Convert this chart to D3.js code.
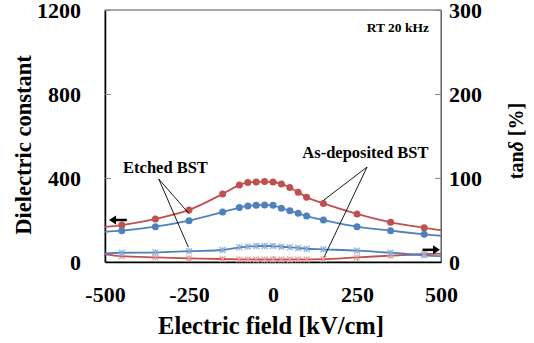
<!DOCTYPE html>
<html>
<head>
<meta charset="utf-8">
<script src="https://cdn.jsdelivr.net/npm/d3@7"></script>
<style>
  body { margin: 0; background: #fff; }
  svg text { font-family: "Liberation Serif", "Times New Roman", serif; font-weight: bold; }
</style>
</head>
<body>
<svg id="chart" width="534" height="343"></svg>
<script>
// Electric field [kV/cm]; the ±500 ends only carry the line to the frame
const field = [-500, -450, -350, -250, -150, -100, -75, -50, -25, 0, 25, 50, 75, 100, 150, 250, 350, 450, 500];

// dielectric constant (left axis)
const epsAsDep = [167, 176, 205, 248, 324, 367, 379, 381, 383, 381, 372, 355, 332, 308, 279, 229, 189, 163, 152];
const epsEtched = [144, 149, 168, 197, 238, 259, 267, 270, 272, 270, 256, 244, 232, 219, 200, 168, 149, 132, 125];

// tan delta [%] (right axis)
const tanAsDep = [9.2, 7, 5.5, 4.4, 3.6, 3.2, 3.1, 3, 3, 3, 3, 3, 3.1, 3.2, 3.4, 5.5, 7.5, 9.5, 10];
const tanEtched = [10.3, 11, 11.5, 13, 14.3, 17.5, 18.3, 19, 19, 19, 18.2, 17.5, 16.7, 15.8, 15, 13.5, 11, 8, 7];

const xTicks = [-500, -250, 0, 250, 500];
const yTicksLeft = [0, 400, 800, 1200];
const yTicksRight = [0, 100, 200, 300];

const red = '#c0504d', blue = '#4f81bd';
const redLight = '#e6a4a3', blueLight = '#8eb0dc';

const margin = { top: 10, right: 93, bottom: 81, left: 105 };
const width = 534 - margin.left - margin.right;
const height = 343 - margin.top - margin.bottom;

const svg = d3.select('#chart');
const g = svg.append('g').attr('transform', `translate(${margin.left},${margin.top})`);

const x = d3.scaleLinear().domain([-500, 500]).range([0, width]);
const yL = d3.scaleLinear().domain([0, 1200]).range([height, 0]);
const yR = d3.scaleLinear().domain([0, 300]).range([height, 0]);

// frame
g.append('rect').attr('width', width).attr('height', height)
  .attr('fill', 'none').attr('stroke', '#555').attr('stroke-width', 1);

// axes with inward ticks
const fmt = (d) => String(d);
const axL = g.append('g').call(d3.axisLeft(yL).tickValues(yTicksLeft).tickFormat(fmt)
  .tickSizeInner(-6).tickSizeOuter(0).tickPadding(24));
const axR = g.append('g').attr('transform', `translate(${width},0)`)
  .call(d3.axisRight(yR).tickValues(yTicksRight).tickFormat(fmt)
    .tickSizeInner(-6).tickSizeOuter(0).tickPadding(8));
const axB = g.append('g').attr('transform', `translate(0,${height})`)
  .call(d3.axisBottom(x).tickValues(xTicks).tickFormat(fmt)
    .tickSizeInner(-6).tickSizeOuter(0).tickPadding(24));

[axL, axR, axB].forEach((a) => {
  a.attr('font-family', null).attr('font-size', null);
  a.selectAll('text').style('font-size', '22px').attr('fill', '#000');
  a.selectAll('.tick line').attr('stroke', '#888');
});
axL.select('.domain').attr('stroke', '#000').attr('stroke-width', 1.5);
axB.select('.domain').attr('stroke', '#000').attr('stroke-width', 1.5);
axR.select('.domain').attr('stroke', '#666');
axB.selectAll('.tick line').filter((d) => d === -500 || d === 500).remove();

svg.append('clipPath').attr('id', 'plot')
  .append('rect').attr('width', width).attr('height', height);
const plot = g.append('g').attr('clip-path', 'url(#plot)');

function series(values, scale, color, markerColor, marker) {
  const pts = field.map((f, i) => ({ f, v: values[i] }));
  const line = d3.line().x((d) => x(d.f)).y((d) => scale(d.v)).curve(d3.curveCatmullRom.alpha(0.5));
  plot.append('path').attr('d', line(pts)).attr('fill', 'none')
    .attr('stroke', color).attr('stroke-width', 1.8);
  const inner = pts.filter((d) => Math.abs(d.f) < 500);
  if (marker === 'circle') {
    g.selectAll(null).data(inner).join('circle')
      .attr('cx', (d) => x(d.f)).attr('cy', (d) => scale(d.v)).attr('r', 3.5)
      .attr('fill', color);
  } else {
    const s = 3;
    const star = `M${-s},${-s}L${s},${s}M${-s},${s}L${s},${-s}M0,${-s}L0,${s}`;
    g.selectAll(null).data(inner).join('path')
      .attr('transform', (d) => `translate(${x(d.f)},${scale(d.v)})`)
      .attr('d', star).attr('stroke', markerColor).attr('stroke-width', 1.2).attr('fill', 'none');
  }
}

series(tanAsDep, yR, red, redLight, 'star');
series(tanEtched, yR, blue, blueLight, 'star');
series(epsAsDep, yL, red, red, 'circle');
series(epsEtched, yL, blue, blue, 'circle');

// axis arrows
function arrow(x1, y1, x2, y2) {
  const ang = Math.atan2(y2 - y1, x2 - x1);
  const hl = 7, hw = 4.5;
  g.append('line').attr('x1', x1).attr('y1', y1).attr('x2', x2 - Math.cos(ang) * hl).attr('y2', y2)
    .attr('stroke', '#000').attr('stroke-width', 2.5);
  g.append('path')
    .attr('d', `M${x2},${y2}L${x2 - hl},${y2 - hw}L${x2 - hl},${y2 + hw}Z`)
    .attr('transform', `rotate(${ang * 180 / Math.PI},${x2},${y2})`)
    .attr('fill', '#000');
}
arrow(x(-435), yL(200), x(-488), yL(200));
arrow(x(445), yR(14.5), x(497), yR(14.5));

// annotations
function leader(sx, sy, ex, ey) {
  g.append('line').attr('x1', sx).attr('y1', sy).attr('x2', ex).attr('y2', ey)
    .attr('stroke', '#000').attr('stroke-width', 0.9);
}
g.append('text').attr('x', x(-320)).attr('y', 163).attr('text-anchor', 'middle')
  .style('font-size', '16.5px').text('Etched BST');
leader(x(-340), 169, x(-250), yL(epsEtched[3]) - 7);
leader(x(-340), 169, x(-252), yR(tanEtched[3]) - 4);

g.append('text').attr('x', x(275)).attr('y', 148).attr('text-anchor', 'middle')
  .style('font-size', '16.5px').text('As-deposited BST');
leader(x(280), 157, x(150), yL(epsAsDep[14]) - 3);
leader(x(280), 157, x(152), yR(tanAsDep[14]) - 2);

g.append('text').attr('x', width - 12).attr('y', 22).attr('text-anchor', 'end')
  .style('font-size', '13.5px').text('RT 20 kHz');

// axis titles
svg.append('text').attr('transform', `translate(31,145) rotate(-90)`)
  .attr('text-anchor', 'middle').style('font-size', '22.5px').text('Dielectric constant');

const tt = svg.append('text').attr('transform', `translate(523,141) rotate(-90)`)
  .attr('text-anchor', 'middle').style('font-size', '20px');
tt.append('tspan').text('tan');
tt.append('tspan').style('font-style', 'italic').text('δ');
tt.append('tspan').text(' [%]');

svg.append('text').attr('x', 271).attr('y', 334).attr('text-anchor', 'middle')
  .style('font-size', '24.5px').text('Electric field [kV/cm]');
</script>
</body>
</html>
